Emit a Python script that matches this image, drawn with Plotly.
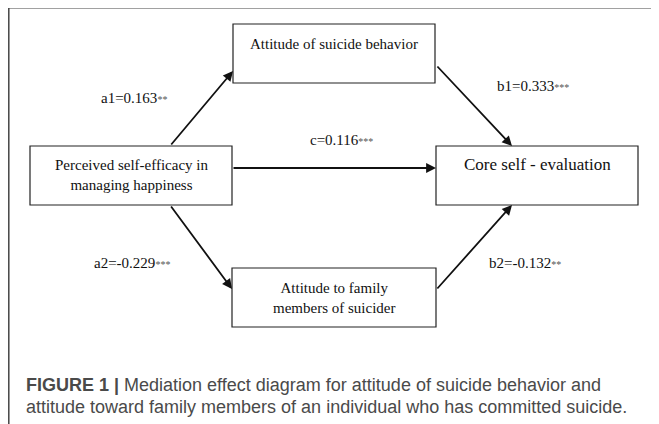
import plotly.graph_objects as go

# ---- data ----
node_names = ["Perceived self-efficacy in<br>managing happiness",
              "Attitude of suicide behavior",
              "Attitude to family<br>members of suicider",
              "Core self - evaluation"]
path_names = ["a1", "b1", "c", "a2", "b2"]
path_coefs = ["0.163", "0.333", "0.116", "-0.229", "-0.132"]
path_stars = ["**", "***", "***", "***", "**"]
caption_bold = "FIGURE 1 |"
caption_lines = ["Mediation effect diagram for attitude of suicide behavior and",
                 "attitude toward family members of an individual who has committed suicide."]

# ---- layout (pixel coordinates of the page) ----
W, H = 659, 424
OFF = 8  # default page body margin
boxes = [(30, 146, 232, 205), (233, 24, 435, 83), (232, 268, 436, 327), (436, 146, 638, 205)]
text_pos = [(131, 175, 15), (334, 44, 15), (334, 298, 15), (537, 164, 17)]
arrows = [((170, 146), (233, 71)),
          ((436, 65), (512, 146)),
          ((232, 168), (436, 168)),
          ((170, 205), (232, 289)),
          ((436, 290), (512, 205))]
label_pos = [(134, 98), (533, 86), (341, 140), (132, 263), (525, 263)]

serif = "Liberation Serif, Times New Roman, serif"
sans = "Liberation Sans, Arial, sans-serif"
fig = go.Figure()
fig.add_trace(go.Scatter(x=[OFF + 1, W], y=[OFF + 1, H], mode="markers", marker=dict(opacity=0),
                         hoverinfo="skip", showlegend=False))

shapes = []
for (x0, y0, x1, y1) in boxes:
    shapes.append(dict(type="rect", x0=x0, y0=y0, x1=x1, y1=y1, xref="x", yref="y",
                       line=dict(color="#222", width=1.2), fillcolor="white"))
# outer frame
shapes.append(dict(type="line", x0=8.8, y0=7.8, x1=W + OFF, y1=7.8, xref="x", yref="y", line=dict(color="#444", width=1.5)))
shapes.append(dict(type="line", x0=8.8, y0=7.8, x1=8.8, y1=H + OFF, xref="x", yref="y", line=dict(color="#444", width=1.5)))

annotations = []
for name, (x, y, fs) in zip(node_names, text_pos):
    annotations.append(dict(x=x, y=y, xref="x", yref="y", text=name, showarrow=False,
                            font=dict(family=serif, size=fs, color="#111"), align="center"))
for (start, end) in arrows:
    annotations.append(dict(x=end[0], y=end[1], ax=start[0], ay=start[1], xref="x", yref="y",
                            axref="x", ayref="y", text="", showarrow=True, arrowhead=2,
                            arrowsize=1.1, arrowwidth=1.8, arrowcolor="#111"))
for nm, cf, st, (x, y) in zip(path_names, path_coefs, path_stars, label_pos):
    annotations.append(dict(x=x, y=y, xref="x", yref="y",
                            text=f"{nm}={cf}<span style='font-size:10px;color:#555'>{st}</span>",
                            showarrow=False, font=dict(family=serif, size=15, color="#111")))
annotations.append(dict(x=24, y=385, xref="x", yref="y", xanchor="left", showarrow=False,
                        text=f"<b>{caption_bold}</b> {caption_lines[0]}",
                        font=dict(family=sans, size=18, color="#4a4a4a")))
annotations.append(dict(x=24, y=407, xref="x", yref="y", xanchor="left", showarrow=False,
                        text=caption_lines[1],
                        font=dict(family=sans, size=18, color="#4a4a4a")))

fig.update_layout(width=W, height=H, margin=dict(l=0, r=0, t=0, b=0),
                  paper_bgcolor="white", plot_bgcolor="white",
                  xaxis=dict(range=[OFF, W + OFF], visible=False, fixedrange=True),
                  yaxis=dict(range=[H + OFF, OFF], visible=False, fixedrange=True),
                  shapes=shapes, annotations=annotations, showlegend=False)
fig.write_html("out.html")
